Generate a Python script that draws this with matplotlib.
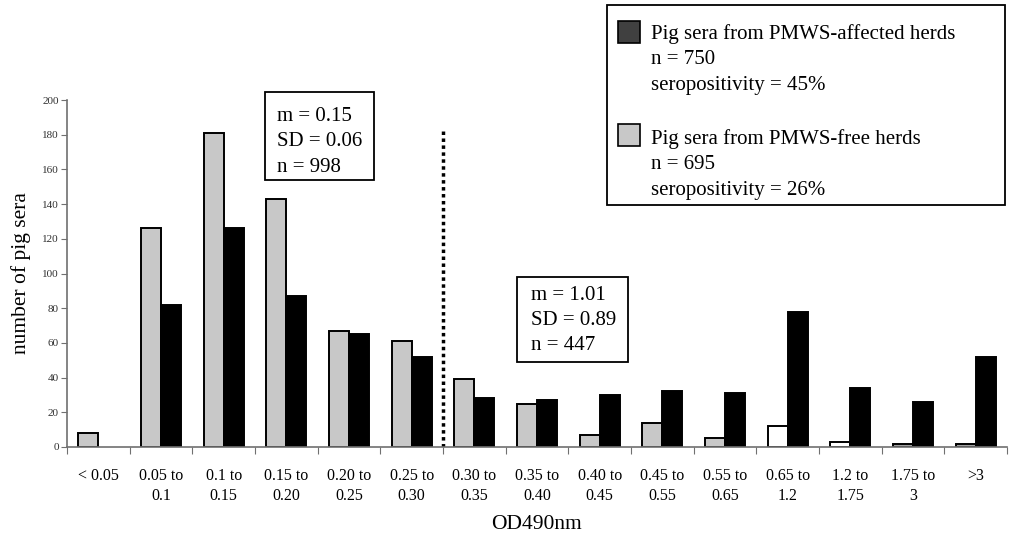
import matplotlib
matplotlib.use("Agg")
import matplotlib.pyplot as plt
from matplotlib.patches import Rectangle
import numpy as np

# ---- data ----
categories = ["< 0.05", "0.05 to\n0.1", "0.1 to\n0.15", "0.15 to\n0.20", "0.20 to\n0.25",
              "0.25 to\n0.30", "0.30 to\n0.35", "0.35 to\n0.40", "0.40 to\n0.45", "0.45 to\n0.55",
              "0.55 to\n0.65", "0.65 to\n1.2", "1.2 to\n1.75", "1.75 to\n3", ">3"]
free_herds = [8, 126, 181, 143, 67, 61, 39, 25, 7, 14, 5, 12, 3, 2, 2]
affected_herds = [0, 82, 126, 87, 65, 52, 28, 27, 30, 32, 31, 78, 34, 26, 52]
cutoff_at = 5.5  # between 0.25-0.30 and 0.30-0.35

# fill of the "free" bars (two of them are white in the original)
free_colors = ["#c8c8c8"] * 11 + ["white", "white"] + ["#a0a0a0", "#a0a0a0"]

plt.rcParams['font.family'] = ['Liberation Serif', 'DejaVu Serif']

W, H = 1010, 535
fig = plt.figure(figsize=(W / 100, H / 100), dpi=100)
ax = fig.add_axes([67 / W, 88 / H, 940 / W, 347 / H])

x = np.arange(len(categories))
bw = 0.32
ax.bar(x - bw / 2, free_herds, width=bw, color=free_colors, edgecolor="black", linewidth=1.4)
# empty bins get no outline at all
ax.bar(x + bw / 2, affected_herds, width=bw, color="black", edgecolor="black",
       linewidth=[1.4 if v > 0 else 0 for v in affected_herds])

ax.vlines(cutoff_at, 0, 182, colors="black", linestyles=(0, (1, 1)), linewidth=2.5)

ax.set_xlim(-0.5, len(categories) - 0.5)
ax.set_ylim(0, 200)
ax.set_yticks(range(0, 201, 20))
ax.tick_params(axis="y", labelsize=8, length=4, direction="out", color="#707070", pad=2,
               labelcolor="#303030")

ax.set_xticks(np.arange(-0.5, len(categories), 1.0))
ax.set_xticklabels([])
ax.set_xticks(x, minor=True)
ax.set_xticklabels(categories, minor=True, fontsize=11.5, linespacing=1.35)
ax.tick_params(axis="x", which="major", length=5, direction="out", color="#707070")
ax.tick_params(axis="x", which="minor", length=0, pad=15)

for s in ["top", "right"]:
    ax.spines[s].set_visible(False)
for s in ["left", "bottom"]:
    ax.spines[s].set_color("#707070")
    ax.spines[s].set_linewidth(1.2)

ax.set_ylabel("number of pig sera", fontsize=15.5, labelpad=8)
ax.set_xlabel("OD490nm", fontsize=15.5)
ax.xaxis.set_label_coords(0.5, -0.196)


def fx(px):
    return px / W


def fy(py):
    return 1 - py / H


def box(x0, y0, x1, y1):
    fig.add_artist(Rectangle((fx(x0), fy(y1)), fx(x1) - fx(x0), fy(y0) - fy(y1),
                             transform=fig.transFigure, fill=False, edgecolor="black",
                             linewidth=1.3))


# stats boxes
box(265, 92, 374, 180)
fig.text(fx(277), fy(107), "m = 0.15\nSD = 0.06\nn = 998", fontsize=15, va="top",
         linespacing=1.46)
box(517, 277, 628, 362)
fig.text(fx(531), fy(286), "m = 1.01\nSD = 0.89\nn = 447", fontsize=15, va="top",
         linespacing=1.42)

# legend box
box(607, 5, 1005, 205)
fig.add_artist(Rectangle((fx(618), fy(43)), fx(22), 22 / H, transform=fig.transFigure,
                         facecolor="#404040", edgecolor="black", linewidth=1.2))
fig.add_artist(Rectangle((fx(618), fy(146)), fx(22), 22 / H, transform=fig.transFigure,
                         facecolor="#c8c8c8", edgecolor="black", linewidth=1.2))
fig.text(fx(651), fy(24), "Pig sera from PMWS-affected herds\nn = 750\nseropositivity = 45%",
         fontsize=15, va="top", linespacing=1.45)
fig.text(fx(651), fy(129), "Pig sera from PMWS-free herds\nn = 695\nseropositivity = 26%",
         fontsize=15, va="top", linespacing=1.45)

fig.savefig("out.png", dpi=100)
